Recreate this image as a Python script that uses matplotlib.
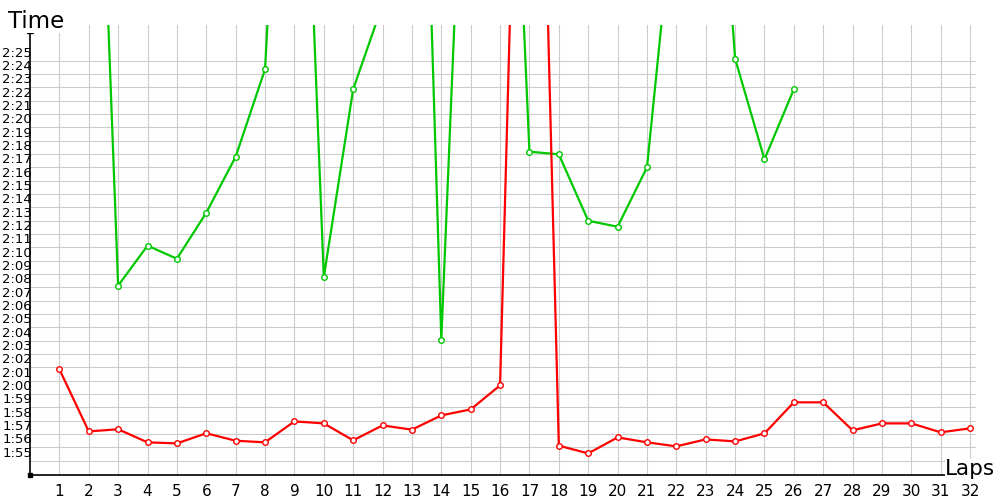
import numpy as np
import matplotlib
matplotlib.use("Agg")
import matplotlib.pyplot as plt
import matplotlib.transforms as mtransforms

# lap numbers and lap times in seconds (115 = 1:55)
laps = list(range(1, 33))
red_times = [121.86, 117.2, 117.36, 116.38, 116.3, 117.06, 116.5, 116.38,
             117.95, 117.8, 116.53, 117.65, 117.33, 118.4, 118.85, 120.65,
             202.4, 116.13, 115.55, 116.75, 116.38, 116.08, 116.6, 116.45,
             117.05, 119.38, 119.38, 117.28, 117.8, 117.8, 117.13, 117.43]
green_laps = list(range(2, 27))
green_times = [186.9, 128.13, 131.13, 130.15, 133.6, 137.8, 144.36, 185.0,
               128.76, 142.86, 149.2, 195.8, 124.08, 177.4, 188.2, 138.18,
               137.98, 133.0, 132.55, 137.0, 158.8, 175.6, 145.16, 137.6,
               142.86]
time_ticks = list(range(115, 146))


def fmt(s):
    return "%d:%02d" % (s // 60, s % 60)


fig = plt.figure(figsize=(10, 5), dpi=100)
ax = fig.add_axes([0.03, 0.05, 0.946, 0.9])

ax.set_xlim(0, 32.2)
ax.set_ylim(113.93, 147.68)

# series
ax.plot(green_laps, green_times, color="#00c800", lw=1.6, marker="o",
        markersize=4, markerfacecolor="white", markeredgewidth=1,
        solid_joinstyle="miter", zorder=3)
ax.plot(laps, red_times, color="#ff0000", lw=1.6, marker="o",
        markersize=4, markerfacecolor="white", markeredgewidth=1,
        solid_joinstyle="miter", zorder=4)

# grid
ax.set_xticks(laps)
ax.set_xticklabels([str(l) for l in laps], fontsize=11)
ax.set_yticks(time_ticks)
ax.set_yticklabels([])
ax.tick_params(length=0)
ax.tick_params(axis="x", pad=6.5)
ax.grid(color="#cccccc", lw=0.8)
ax.set_axisbelow(True)

for s in ["top", "right"]:
    ax.spines[s].set_visible(False)
for s in ["left", "bottom"]:
    ax.spines[s].set_color("black")
    ax.spines[s].set_linewidth(1.2)

# y labels sit just above their grid line
tr = mtransforms.offset_copy(ax.get_yaxis_transform(), fig=fig,
                             x=2, y=4, units="dots")
for t in time_ticks:
    ax.text(0, t, fmt(t), transform=tr, ha="right", va="baseline",
            fontsize=9.5, color="black")

# axis titles
fig.text(0.008, 1 - 10 / 500, "Time", ha="left", va="top", fontsize=16.5,
         bbox=dict(facecolor="white", edgecolor="none", pad=0))
fig.text(0.945, 1 - 459 / 500, "Laps", ha="left", va="top", fontsize=15.5,
         bbox=dict(facecolor="white", edgecolor="none", pad=0), zorder=5)

# arrows and origin mark
ax.plot(0, 1 - 5 / 450, marker="^", color="black", markersize=5,
        transform=ax.transAxes, clip_on=False, zorder=6)
ax.plot(1 - 4 / 946, 0, marker=">", color="black", markersize=5,
        transform=ax.transAxes, clip_on=False, zorder=6)
ax.plot(0, 0, marker="s", color="black", markersize=2.5,
        transform=ax.transAxes, clip_on=False, zorder=6)

fig.savefig("out.png", dpi=100)
